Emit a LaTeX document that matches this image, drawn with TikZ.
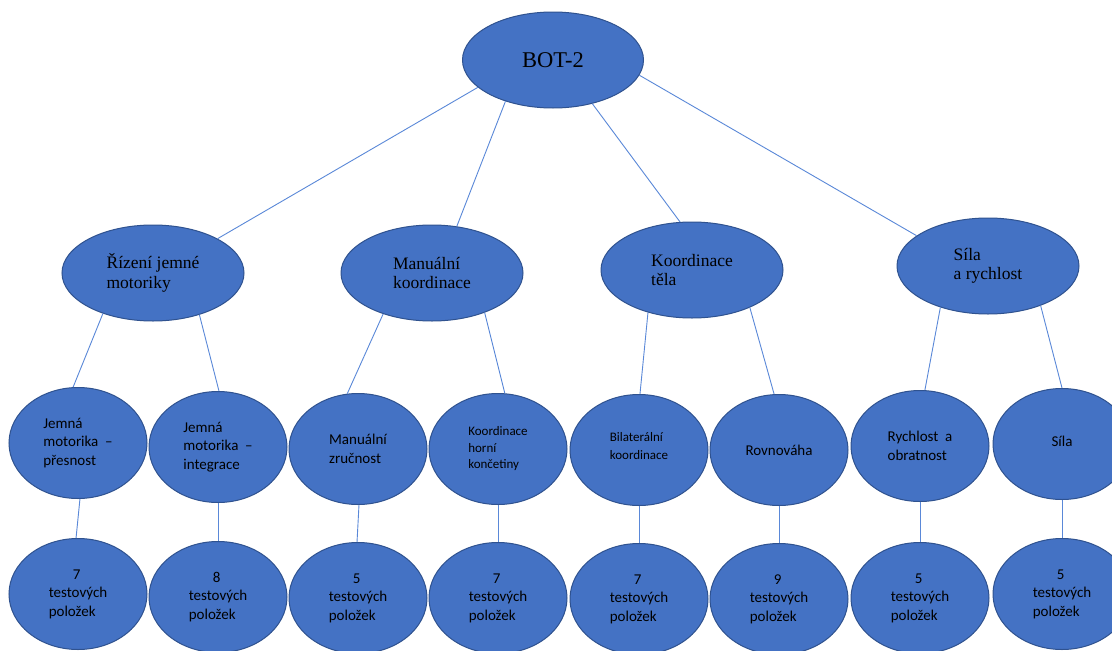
\documentclass[tikz,border=0pt]{standalone}
\usepackage{fontspec}
\setmainfont{Liberation Serif}
\newfontfamily\calibri{Carlito}
\usetikzlibrary{shapes.geometric}
\definecolor{fillblue}{HTML}{4472C4}
\definecolor{edgeblue}{HTML}{2F528F}
\definecolor{lineblue}{HTML}{5A88D8}
\begin{document}
\begin{tikzpicture}[x=1pt,y=-1pt,
  oval/.style={ellipse, draw=edgeblue, fill=fillblue, line width=1pt, inner sep=0pt, text=black},
  topbox/.style={oval, minimum width=181pt, minimum height=96pt, font=\fontsize{22.5}{27}\selectfont},
  midbox/.style={oval, minimum width=182pt, minimum height=96pt, align=left, font=\fontsize{17.5}{19.5}\selectfont},
  lowbox/.style={oval, minimum width=138pt, minimum height=111pt, align=left, font=\calibri\fontsize{15}{18.5}\selectfont},
  smallfont/.style={font=\calibri\fontsize{13}{16.5}\selectfont},
  link/.style={draw=lineblue, line width=0.9pt}]
\useasboundingbox (0,0) rectangle (1112,651);
\fill[white] (0,0) rectangle (1112,651);

% top
\node[topbox] (bot) at (553,60) {BOT-2};

% level 2
\node[midbox] (riz) at (153,273) {Řízení jemné\\motoriky};
\node[midbox] (man) at (432,273) {Manuální\\koordinace};
\node[midbox] (kor) at (692,270) {Koordinace\\těla};
\node[midbox] (sil) at (988,266) {Síla\\a rychlost};

% level 3
\node[lowbox] (j1) at (78,443) {Jemná\\motorika\ \ –\\přesnost};
\node[lowbox] (j2) at (218,447) {Jemná\\motorika\ \ –\\integrace};
\node[lowbox] (m1) at (358,449) {Manuální\\zručnost};
\node[lowbox,smallfont] (m2) at (498,449) {Koordinace\\horní\\končetiny};
\node[lowbox,smallfont] (k1) at (639,450) {\raisebox{8pt}{Bilaterální}\\\raisebox{8pt}{koordinace}};
\node[lowbox] (k2) at (779,450) {Rovnováha};
\node[lowbox] (s1) at (920,446) {Rychlost\ \ a\\obratnost};
\node[lowbox] (s2) at (1062,444) {\raisebox{6pt}{Síla}};

% level 4
\node[lowbox] (n1) at (78,594) {\hspace*{24pt}7\\testových\\položek};
\node[lowbox] (n2) at (218,597) {\hspace*{24pt}8\\testových\\položek};
\node[lowbox] (n3) at (358,598) {\hspace*{24pt}5\\testových\\položek};
\node[lowbox] (n4) at (498,598) {\hspace*{24pt}7\\testových\\položek};
\node[lowbox] (n5) at (639,599) {\hspace*{24pt}7\\testových\\položek};
\node[lowbox] (n6) at (779,599) {\hspace*{24pt}9\\testových\\položek};
\node[lowbox] (n7) at (920,598) {\hspace*{24pt}5\\testových\\položek};
\node[lowbox] (n8) at (1062,594) {\hspace*{24pt}5\\testových\\položek};

% connectors top -> level 2
\draw[link] (bot.200) -- (riz.28);
\draw[link] (bot.221) -- (man.62);
\draw[link] (bot.312) -- (kor.104);
\draw[link] (bot.350) -- (sil.157);

% level 2 -> level 3
\draw[link] (riz.219) -- (j1.95);
\draw[link] (riz.318) -- (j2.89);
\draw[link] (man.220) -- (m1.101);
\draw[link] (man.323) -- (m2.83);
\draw[link] (kor.224) -- (k1.89);
\draw[link] (kor.327) -- (k2.95);
\draw[link] (sil.221) -- (s1.85);
\draw[link] (sil.323) -- (s2.90);

% level 3 -> level 4
\draw[link] (j1.272) -- (n1.92);
\draw[link] (j2.south) -- (n2.north);
\draw[link] (m1.271) -- (n3.91);
\draw[link] (m2.south) -- (n4.north);
\draw[link] (k1.south) -- (n5.north);
\draw[link] (k2.south) -- (n6.north);
\draw[link] (s1.south) -- (n7.north);
\draw[link] (s2.south) -- (n8.north);
\end{tikzpicture}
\end{document}
